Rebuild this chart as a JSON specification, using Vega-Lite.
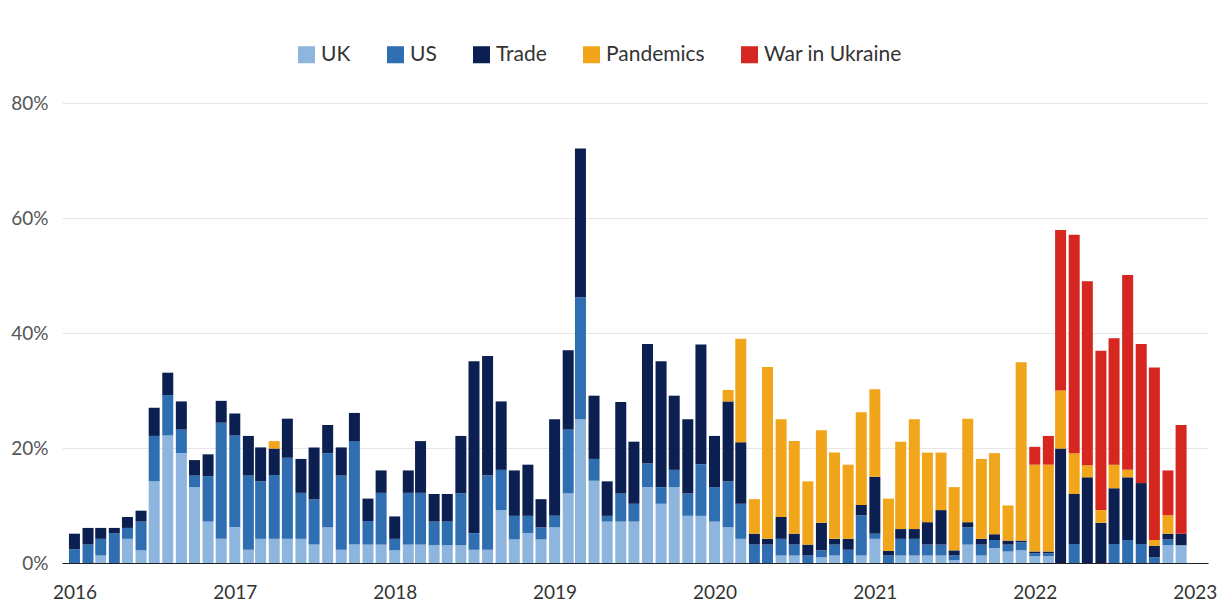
{
  "$schema": "https://vega.github.io/schema/vega-lite/v6.json",
  "width": 1146,
  "height": 460,
  "autosize": "none",
  "padding": {"left": 62, "top": 103, "right": 13, "bottom": 43},
  "background": "white",
  "config": {
    "font": "Lato",
    "view": {"stroke": null},
    "axis": {"labelFont": "Lato", "labelColor": "#444444"},
    "legend": {"labelFont": "Lato", "labelColor": "#333333"}
  },
  "data": {
    "values": [
      {"d": "2016-01-01", "US": 2.4, "Trade": 2.7},
      {"d": "2016-02-01", "US": 3.2, "Trade": 2.9},
      {"d": "2016-03-01", "UK": 1.3, "US": 2.9, "Trade": 1.9},
      {"d": "2016-04-01", "US": 5.2, "Trade": 0.9},
      {"d": "2016-05-01", "UK": 4.2, "US": 1.9, "Trade": 1.9},
      {"d": "2016-06-01", "UK": 2.2, "US": 5.0, "Trade": 1.9},
      {"d": "2016-07-01", "UK": 14.2, "US": 7.9, "Trade": 4.9},
      {"d": "2016-08-01", "UK": 22.2, "US": 7.0, "Trade": 3.9},
      {"d": "2016-09-01", "UK": 19.1, "US": 4.1, "Trade": 4.9},
      {"d": "2016-10-01", "UK": 13.2, "US": 2.0, "Trade": 2.7},
      {"d": "2016-11-01", "UK": 7.2, "US": 7.9, "Trade": 3.8},
      {"d": "2016-12-01", "UK": 4.2, "US": 20.2, "Trade": 3.8},
      {"d": "2017-01-01", "UK": 6.2, "US": 16.0, "Trade": 3.8},
      {"d": "2017-02-01", "UK": 2.3, "US": 12.9, "Trade": 6.9},
      {"d": "2017-03-01", "UK": 4.2, "US": 10.0, "Trade": 5.9},
      {"d": "2017-04-01", "UK": 4.2, "US": 11.1, "Trade": 4.6, "Pandemics": 1.3},
      {"d": "2017-05-01", "UK": 4.2, "US": 14.1, "Trade": 6.8},
      {"d": "2017-06-01", "UK": 4.2, "US": 8.0, "Trade": 5.9},
      {"d": "2017-07-01", "UK": 3.2, "US": 7.9, "Trade": 9.0},
      {"d": "2017-08-01", "UK": 6.2, "US": 12.9, "Trade": 4.9},
      {"d": "2017-09-01", "UK": 2.3, "US": 12.9, "Trade": 4.9},
      {"d": "2017-10-01", "UK": 3.2, "US": 18.0, "Trade": 4.9},
      {"d": "2017-11-01", "UK": 3.2, "US": 4.1, "Trade": 3.9},
      {"d": "2017-12-01", "UK": 3.2, "US": 9.0, "Trade": 3.9},
      {"d": "2018-01-01", "UK": 2.2, "US": 2.0, "Trade": 3.9},
      {"d": "2018-02-01", "UK": 3.2, "US": 9.0, "Trade": 3.9},
      {"d": "2018-03-01", "UK": 3.2, "US": 9.0, "Trade": 9.0},
      {"d": "2018-04-01", "UK": 3.1, "US": 4.1, "Trade": 4.8},
      {"d": "2018-05-01", "UK": 3.1, "US": 4.1, "Trade": 4.8},
      {"d": "2018-06-01", "UK": 3.1, "US": 9.0, "Trade": 10.0},
      {"d": "2018-07-01", "UK": 2.3, "US": 2.9, "Trade": 29.9},
      {"d": "2018-08-01", "UK": 2.3, "US": 12.9, "Trade": 20.8},
      {"d": "2018-09-01", "UK": 9.2, "US": 7.0, "Trade": 11.9},
      {"d": "2018-10-01", "UK": 4.1, "US": 4.1, "Trade": 7.9},
      {"d": "2018-11-01", "UK": 5.2, "US": 3.0, "Trade": 8.9},
      {"d": "2018-12-01", "UK": 4.1, "US": 2.1, "Trade": 4.9},
      {"d": "2019-01-01", "UK": 6.2, "US": 2.0, "Trade": 16.8},
      {"d": "2019-02-01", "UK": 12.1, "US": 11.1, "Trade": 13.8},
      {"d": "2019-03-01", "UK": 25.0, "US": 21.2, "Trade": 25.9},
      {"d": "2019-04-01", "UK": 14.3, "US": 3.8, "Trade": 11.0},
      {"d": "2019-05-01", "UK": 7.2, "US": 1.0, "Trade": 6.0},
      {"d": "2019-06-01", "UK": 7.2, "US": 4.9, "Trade": 15.9},
      {"d": "2019-07-01", "UK": 7.2, "US": 3.1, "Trade": 10.8},
      {"d": "2019-08-01", "UK": 13.2, "US": 4.1, "Trade": 20.8},
      {"d": "2019-09-01", "UK": 10.3, "US": 2.9, "Trade": 21.9},
      {"d": "2019-10-01", "UK": 13.2, "US": 3.0, "Trade": 12.9},
      {"d": "2019-11-01", "UK": 8.2, "US": 3.9, "Trade": 12.9},
      {"d": "2019-12-01", "UK": 8.2, "US": 9.0, "Trade": 20.8},
      {"d": "2020-01-01", "UK": 7.2, "US": 6.0, "Trade": 8.9},
      {"d": "2020-02-01", "UK": 6.2, "US": 8.0, "Trade": 13.9, "Pandemics": 2.0},
      {"d": "2020-03-01", "UK": 4.2, "US": 6.1, "Trade": 10.7, "Pandemics": 18.0},
      {"d": "2020-04-01", "US": 3.2, "Trade": 1.9, "Pandemics": 6.0},
      {"d": "2020-05-01", "US": 3.2, "Trade": 1.0, "Pandemics": 29.9},
      {"d": "2020-06-01", "UK": 1.3, "US": 2.9, "Trade": 3.8, "Pandemics": 17.0},
      {"d": "2020-07-01", "UK": 1.3, "US": 1.9, "Trade": 1.9, "Pandemics": 16.1},
      {"d": "2020-08-01", "US": 1.3, "Trade": 1.9, "Pandemics": 11.0},
      {"d": "2020-09-01", "UK": 1.0, "US": 1.2, "Trade": 4.8, "Pandemics": 16.1},
      {"d": "2020-10-01", "UK": 1.3, "US": 1.9, "Trade": 1.0, "Pandemics": 15.0},
      {"d": "2020-11-01", "US": 2.3, "Trade": 1.9, "Pandemics": 12.9},
      {"d": "2020-12-01", "UK": 1.3, "US": 7.0, "Trade": 1.8, "Pandemics": 16.1},
      {"d": "2021-01-01", "UK": 4.2, "US": 0.9, "Trade": 9.9, "Pandemics": 15.2},
      {"d": "2021-02-01", "US": 1.3, "Trade": 0.8, "Pandemics": 9.1},
      {"d": "2021-03-01", "UK": 1.3, "US": 2.9, "Trade": 1.7, "Pandemics": 15.2},
      {"d": "2021-04-01", "UK": 1.3, "US": 2.9, "Trade": 1.7, "Pandemics": 19.1},
      {"d": "2021-05-01", "UK": 1.3, "US": 1.9, "Trade": 3.9, "Pandemics": 12.1},
      {"d": "2021-06-01", "UK": 1.3, "US": 1.9, "Trade": 6.0, "Pandemics": 10.0},
      {"d": "2021-07-01", "UK": 0.5, "US": 0.8, "Trade": 0.9, "Pandemics": 11.0},
      {"d": "2021-08-01", "UK": 3.2, "US": 3.0, "Trade": 0.9, "Pandemics": 18.0},
      {"d": "2021-09-01", "UK": 1.3, "US": 1.9, "Trade": 1.0, "Pandemics": 13.9},
      {"d": "2021-10-01", "UK": 2.6, "US": 1.4, "Trade": 1.0, "Pandemics": 14.1},
      {"d": "2021-11-01", "UK": 2.0, "US": 1.2, "Trade": 0.7, "Pandemics": 6.1},
      {"d": "2021-12-01", "UK": 2.2, "US": 1.4, "Trade": 0.3, "Pandemics": 31.0},
      {"d": "2022-01-01", "UK": 1.2, "US": 0.5, "Trade": 0.3, "Pandemics": 15.1, "War in Ukraine": 3.1},
      {"d": "2022-02-01", "UK": 1.2, "US": 0.5, "Trade": 0.3, "Pandemics": 15.1, "War in Ukraine": 5.0},
      {"d": "2022-03-01", "Trade": 19.9, "Pandemics": 10.1, "War in Ukraine": 27.9},
      {"d": "2022-04-01", "US": 3.3, "Trade": 8.7, "Pandemics": 7.1, "War in Ukraine": 38.0},
      {"d": "2022-05-01", "Trade": 14.9, "Pandemics": 2.1, "War in Ukraine": 32.0},
      {"d": "2022-06-01", "Trade": 7.0, "Pandemics": 2.2, "War in Ukraine": 27.7},
      {"d": "2022-07-01", "US": 3.3, "Trade": 9.7, "Pandemics": 4.1, "War in Ukraine": 22.0},
      {"d": "2022-08-01", "US": 4.0, "Trade": 10.9, "Pandemics": 1.3, "War in Ukraine": 33.9},
      {"d": "2022-09-01", "US": 3.3, "Trade": 10.6, "War in Ukraine": 24.2},
      {"d": "2022-10-01", "US": 1.0, "Trade": 2.0, "Pandemics": 1.0, "War in Ukraine": 30.0},
      {"d": "2022-11-01", "UK": 3.1, "US": 1.0, "Trade": 1.0, "Pandemics": 3.2, "War in Ukraine": 7.8},
      {"d": "2022-12-01", "UK": 3.1, "Trade": 2.0, "War in Ukraine": 18.9}
    ]
  },
  "transform": [
    {"fold": ["UK", "US", "Trade", "Pandemics", "War in Ukraine"], "as": ["cat", "v"]},
    {"filter": "datum.v > 0"},
    {"window": [{"op": "row_number", "as": "seq"}]}
  ],
  "mark": {"type": "bar", "width": 11},
  "encoding": {
    "x": {
      "field": "d",
      "type": "temporal",
      "scale": {
        "type": "utc",
        "domain": [
          {"year": 2015, "month": 12, "date": 15, "utc": true},
          {"year": 2023, "month": 1, "date": 20, "utc": true}
        ]
      },
      "axis": {
        "title": null,
        "format": "%Y",
        "formatType": "utc",
        "values": [
          {"year": 2016, "month": 1, "date": 1, "utc": true},
          {"year": 2017, "month": 1, "date": 1, "utc": true},
          {"year": 2018, "month": 1, "date": 1, "utc": true},
          {"year": 2019, "month": 1, "date": 1, "utc": true},
          {"year": 2020, "month": 1, "date": 1, "utc": true},
          {"year": 2021, "month": 1, "date": 1, "utc": true},
          {"year": 2022, "month": 1, "date": 1, "utc": true},
          {"year": 2023, "month": 1, "date": 1, "utc": true}
        ],
        "grid": false,
        "domain": true,
        "domainColor": "#222222",
        "domainWidth": 1.2,
        "ticks": false,
        "labelFontSize": 19,
        "labelPadding": 20,
        "labelColor": "#333333",
        "labelOverlap": false,
        "labelFlush": false
      }
    },
    "y": {
      "field": "v",
      "type": "quantitative",
      "stack": "zero",
      "scale": {"domain": [0, 80], "nice": false},
      "axis": {
        "title": null,
        "values": [0, 20, 40, 60, 80],
        "labelExpr": "datum.value + '%'",
        "domain": false,
        "ticks": false,
        "grid": true,
        "gridColor": "#e6e6e6",
        "gridWidth": 1,
        "labelFontSize": 19,
        "labelPadding": 14,
        "labelColor": "#555555"
      }
    },
    "order": {"field": "seq", "type": "quantitative", "sort": "ascending"},
    "color": {
      "field": "cat",
      "type": "nominal",
      "sort": ["UK", "US", "Trade", "Pandemics", "War in Ukraine"],
      "scale": {
        "domain": ["UK", "US", "Trade", "Pandemics", "War in Ukraine"],
        "range": ["#8db5de", "#2f6fb1", "#0b1f50", "#f1a51a", "#d5271f"]
      },
      "legend": {
        "title": null,
        "orient": "none",
        "direction": "horizontal",
        "legendX": 234,
        "legendY": -59,
        "symbolType": "square",
        "symbolSize": 290,
        "symbolStrokeWidth": 0,
        "symbolOpacity": 1,
        "labelFontSize": 21,
        "labelOffset": 4,
        "columnPadding": 34
      }
    }
  }
}
